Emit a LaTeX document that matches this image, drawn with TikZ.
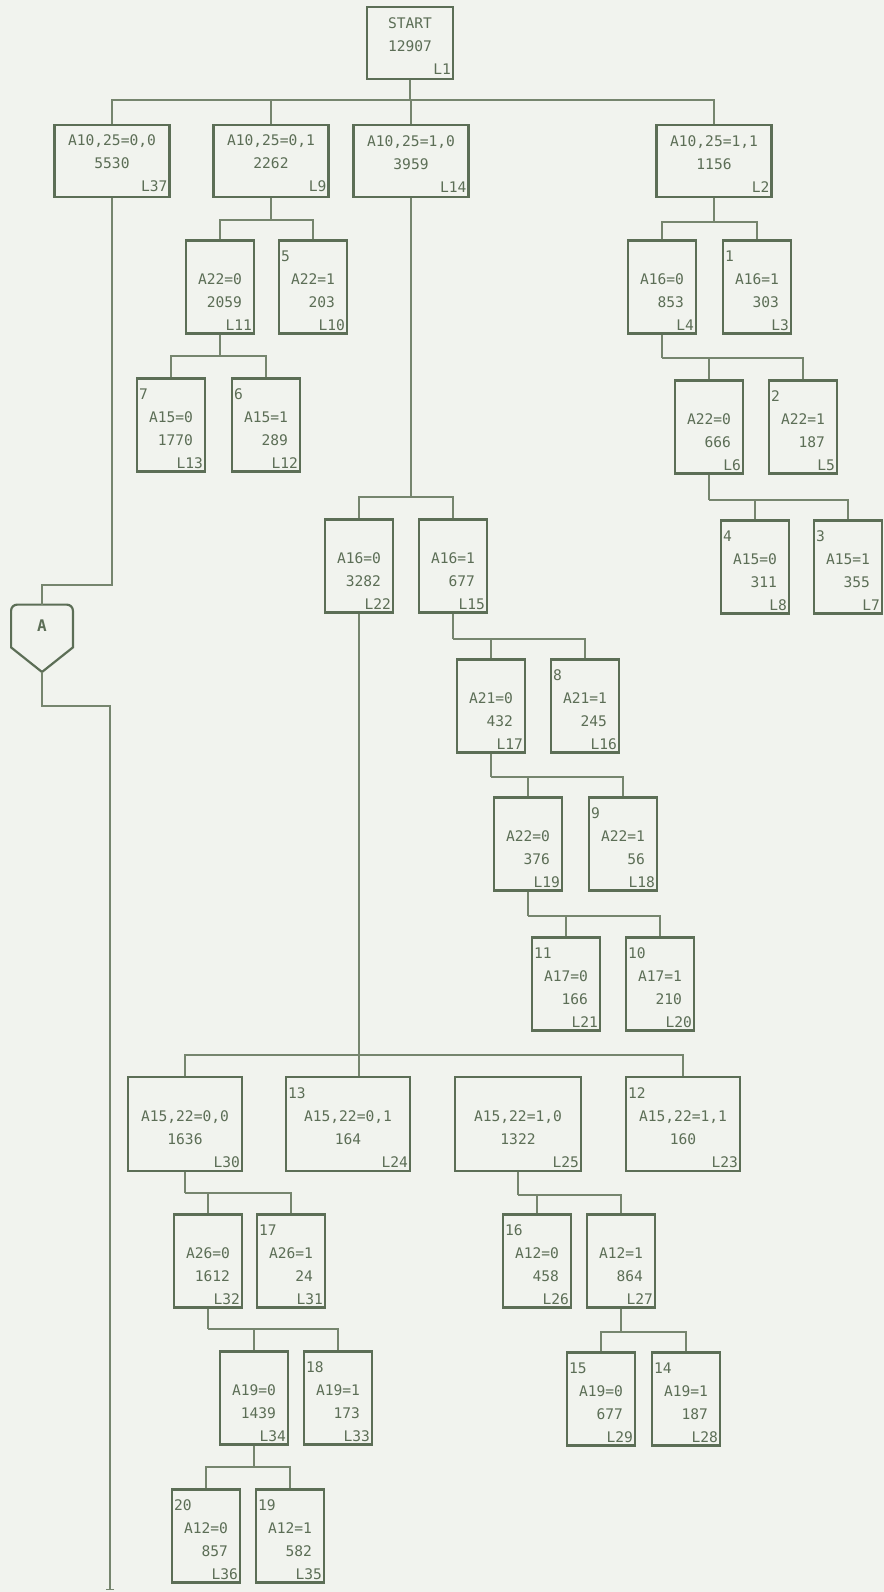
\documentclass[tikz,border=0pt]{standalone}
\usepackage{fontspec}
\newfontfamily\dotfont{DejaVu Sans Mono}
\usetikzlibrary{arrows.meta,calc}
\definecolor{paper}{RGB}{241,243,238}
\definecolor{ink}{RGB}{92,110,86}
\definecolor{wire}{RGB}{118,133,110}
\tikzset{
  bx/.style    ={draw=ink,line width=1.1pt,inner xsep=1pt,inner ysep=0pt,
                 text=ink,font=\dotfont\fontsize{7.3}{11.5}\selectfont},
  head/.style  ={bx,text width=55.5pt,minimum height=36pt},
  leaf/.style  ={bx,text width=32pt,minimum height=46.5pt},
  split/.style ={bx,text width=55pt,minimum height=47pt},
  con/.style   ={minimum width=30.5pt,minimum height=21pt,text=ink,inner sep=0pt,
                 font=\dotfont\bfseries\fontsize{8}{10}\selectfont},
  ln/.style    ={draw=wire,line width=0.7pt},
}
\newlength\bxw
% head box: two centred lines, L-number bottom right
\newcommand{\hb}[3]{\centering\strut#1\par#2\par\raggedleft#3\par}
% count number top left, right-aligned pair of lines
\newcommand{\nb}[4]{\raggedright\rule{0pt}{9.3pt}#1\par
  \settowidth\bxw{#2}\centering#2\par\makebox[\bxw][r]{#3}\par
  \raggedleft#4\par}
% same, pair centred
\newcommand{\cb}[4]{\raggedright\rule{0pt}{9.3pt}#1\par
  \centering#2\par#3\par\raggedleft#4\par}

\begin{document}
\begin{tikzpicture}[x=0.5pt,y=-0.5pt]
\fill[paper] (0,0) rectangle (884,1592);
\useasboundingbox (0,0) rectangle (884,1592);

% root and first split
\node[bx,text width=41pt,minimum height=36pt] (L1) at (410,43) {\hb{START}{12907}{L1}};
\node[head] (L37) at (112,161) {\hb{A10,25=0,0}{5530}{L37}};
\node[head] (L9)  at (271,161) {\hb{A10,25=0,1}{2262}{L9}};
\node[head] (L14) at (411,161) {\hb{A10,25=1,0}{3959}{L14}};
\node[head] (L2)  at (714,161) {\hb{A10,25=1,1}{1156}{L2}};

% ---- under L9 ----
\node[leaf] (L11) at (220,287) {\nb{}{A22=0}{2059}{L11}};
\node[leaf] (L10) at (313,287) {\nb{5}{A22=1}{203}{L10}};
\node[leaf] (L13) at (171,425) {\nb{7}{A15=0}{1770}{L13}};
\node[leaf] (L12) at (266,425) {\nb{6}{A15=1}{289}{L12}};

% ---- under L2 ----
\node[leaf] (L4) at (662,287) {\nb{}{A16=0}{853}{L4}};
\node[leaf] (L3) at (757,287) {\nb{1}{A16=1}{303}{L3}};
\node[leaf] (L6) at (709,427) {\nb{}{A22=0}{666}{L6}};
\node[leaf] (L5) at (803,427) {\nb{2}{A22=1}{187}{L5}};
\node[leaf] (L8) at (755,567) {\nb{4}{A15=0}{311}{L8}};
\node[leaf] (L7) at (848,567) {\nb{3}{A15=1}{355}{L7}};

% ---- under L14 ----
\node[leaf] (L22) at (359,566) {\nb{}{A16=0}{3282}{L22}};
\node[leaf] (L15) at (453,566) {\nb{}{A16=1}{677}{L15}};
\node[leaf] (L17) at (491,706) {\nb{}{A21=0}{432}{L17}};
\node[leaf] (L16) at (585,706) {\nb{8}{A21=1}{245}{L16}};
\node[leaf] (L19) at (528,844) {\nb{}{A22=0}{376}{L19}};
\node[leaf] (L18) at (623,844) {\nb{9}{A22=1}{56}{L18}};
\node[leaf] (L21) at (566,984) {\nb{11}{A17=0}{166}{L21}};
\node[leaf] (L20) at (660,984) {\nb{10}{A17=1}{210}{L20}};

% ---- under L22 ----
\node[split] (L30) at (185,1124) {\cb{}{A15,22=0,0}{1636}{L30}};
\node[split,text width=60pt] (L24) at (348,1124) {\cb{13}{A15,22=0,1}{164}{L24}};
\node[split,text width=61pt] (L25) at (518,1124) {\cb{}{A15,22=1,0}{1322}{L25}};
\node[split] (L23) at (683,1124) {\cb{12}{A15,22=1,1}{160}{L23}};
\node[leaf] (L32) at (208,1261) {\nb{}{A26=0}{1612}{L32}};
\node[leaf] (L31) at (291,1261) {\nb{17}{A26=1}{24}{L31}};
\node[leaf] (L34) at (254,1398) {\nb{}{A19=0}{1439}{L34}};
\node[leaf] (L33) at (338,1398) {\nb{18}{A19=1}{173}{L33}};
\node[leaf] (L36) at (206,1536) {\nb{20}{A12=0}{857}{L36}};
\node[leaf] (L35) at (290,1536) {\nb{19}{A12=1}{582}{L35}};
\node[leaf] (L26) at (537,1261) {\nb{16}{A12=0}{458}{L26}};
\node[leaf] (L27) at (621,1261) {\nb{}{A12=1}{864}{L27}};
\node[leaf] (L29) at (601,1399) {\nb{15}{A19=0}{677}{L29}};
\node[leaf] (L28) at (686,1399) {\nb{14}{A19=1}{187}{L28}};

% off-page connector
\node[con] (A) at (42,626) {A};
\coordinate (Atip) at (42,672);
\draw[draw=ink,line width=1.1pt] (A.south west) [rounded corners=3pt] -- (A.north west)
  -- (A.north east) [sharp corners] -- (A.south east) -- (Atip) -- cycle;

% ---- buses ----
\coordinate (b1) at (410,100);
\draw[ln] (L1) -- (b1);
\draw[ln] (L37) |- (b1) -| (L2);
\draw[ln] (L9) -- (L9 |- b1);
\draw[ln] (L14) -- (L14 |- b1);

\coordinate (b9) at (271,220);
\draw[ln] (L9) -- (b9);
\draw[ln] (L11) |- (b9) -| (L10);
\coordinate (b11) at (220,356);
\draw[ln] (L11) -- (b11);
\draw[ln] (L13) |- (b11) -| (L12);

\coordinate (b2) at (714,222);
\draw[ln] (L2) -- (b2);
\draw[ln] (L4) |- (b2) -| (L3);
\coordinate (b4) at (662,358);
\draw[ln] (L4) -- (b4);
\draw[ln] (L6) |- (b4) -| (L5);
\coordinate (b6) at (709,500);
\draw[ln] (L6) -- (b6);
\draw[ln] (L8) |- (b6) -| (L7);

\coordinate (b14) at (411,497);
\draw[ln] (L14) -- (b14);
\draw[ln] (L22) |- (b14) -| (L15);
\coordinate (b15) at (453,639);
\draw[ln] (L15) -- (b15);
\draw[ln] (L17) |- (b15) -| (L16);
\coordinate (b17) at (491,777);
\draw[ln] (L17) -- (b17);
\draw[ln] (L19) |- (b17) -| (L18);
\coordinate (b19) at (528,916);
\draw[ln] (L19) -- (b19);
\draw[ln] (L21) |- (b19) -| (L20);

\coordinate (b22) at (359,1055);
\draw[ln] (L22) -- (L22 |- L24.north);
\draw[ln] (L30) |- (b22) -| (L23);
\coordinate (b30) at (185,1193);
\draw[ln] (L30) -- (b30);
\draw[ln] (L32) |- (b30) -| (L31);
\coordinate (b32) at (208,1329);
\draw[ln] (L32) -- (b32);
\draw[ln] (L34) |- (b32) -| (L33);
\coordinate (b34) at (254,1467);
\draw[ln] (L34) -- (b34);
\draw[ln] (L36) |- (b34) -| (L35);
\coordinate (b25) at (518,1195);
\draw[ln] (L25) -- (b25);
\draw[ln] (L26) |- (b25) -| (L27);
\coordinate (b27) at (621,1332);
\draw[ln] (L27) -- (b27);
\draw[ln] (L29) |- (b27) -| (L28);

% ---- left branch through A ----
\coordinate (jA) at (42,585);
\draw[ln] (L37) |- (jA) -- (A);
\coordinate (jB) at (110,706);
\coordinate (Aend) at (110,1590);
\draw[ln,-{Bar[width=4pt]}] (Atip) |- (jB) -- (Aend);
\end{tikzpicture}
\end{document}
